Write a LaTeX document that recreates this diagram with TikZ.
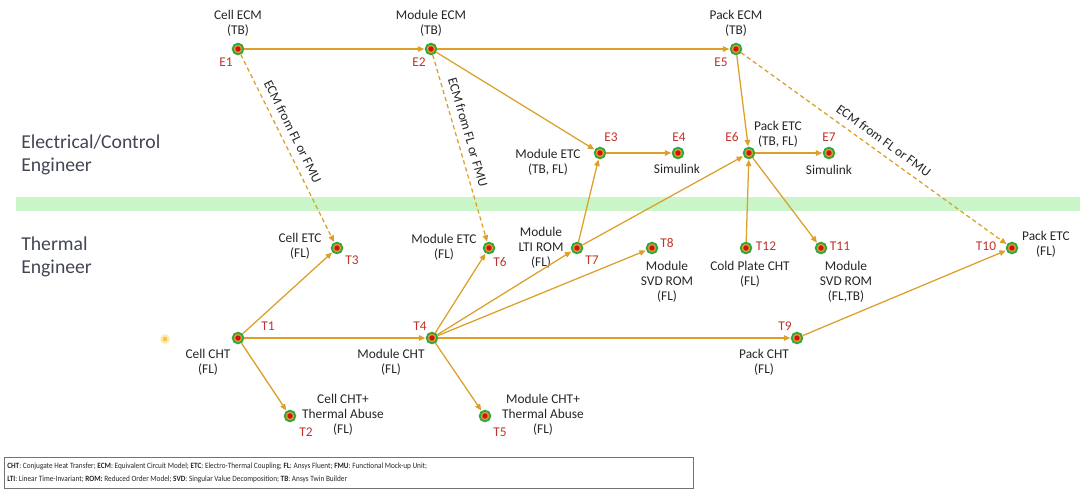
\documentclass[tikz,border=0pt]{standalone}
\usepackage{fontspec}
\setmainfont{Carlito}
\newfontfamily\keyfont[FakeStretch=0.9]{Carlito}
\usetikzlibrary{arrows.meta,calc}
\definecolor{linkOr}{RGB}{220,160,40}
\definecolor{ptGreen}{RGB}{46,168,64}
\definecolor{ptFill}{RGB}{236,150,40}
\definecolor{ptRed}{RGB}{205,20,20}
\definecolor{idRed}{RGB}{192,50,42}
\definecolor{bandGreen}{RGB}{201,245,201}
\definecolor{roleGray}{RGB}{66,70,84}
\definecolor{txtGray}{RGB}{38,38,38}
\definecolor{glow}{RGB}{250,200,60}
\tikzset{
  pt/.style={circle,draw=ptGreen,line width=1.3pt,fill=ptFill,minimum size=7.6pt,
        inner sep=0pt,path picture={\fill[ptRed] (path picture bounding box.center) circle (1.9pt);}},
  lnk/.style={draw=linkOr,line width=.9pt,-{Triangle[length=4.6pt,width=3.9pt]},shorten >=.3pt},
  dlnk/.style={lnk,dash pattern=on 3pt off 2.2pt},
  tag/.style={font=\fontsize{9.5}{10.8}\selectfont,text=idRed,inner sep=0pt},
  txt/.style={font=\fontsize{9.5}{10.8}\selectfont,text=txtGray,align=center,inner sep=0pt},
  role/.style={font=\fontsize{14}{16.4}\selectfont,text=roleGray,align=left,anchor=west,inner sep=0pt},
  via/.style={txt,sloped,above=5pt},
}
\begin{document}
\begin{tikzpicture}[x=0.025cm,y=-0.025cm]
\useasboundingbox (0,0) rectangle (1080,495);
% lane divider
\fill[bandGreen] (16,197) rectangle (1080,211);
\node[role] (ec) at (21,155) {Electrical/Control\\Engineer};
\node[role] (te) at (21,257) {Thermal\\Engineer};
% pointer dot
\fill[glow,opacity=.35] (165,339) circle (5);
\fill[glow] (165,339) circle (2.5);

% electrical points
\node[pt] (e1) at (238,49) {};
\node[pt] (e2) at (431,49) {};
\node[pt] (e5) at (736,49) {};
\node[pt] (e3) at (600,153) {};
\node[pt] (e4) at (678,153) {};
\node[pt] (e6) at (749,153) {};
\node[pt] (e7) at (829,153) {};
% thermal points
\node[pt] (t3) at (337,248) {};
\node[pt] (t6) at (489,248) {};
\node[pt] (t7) at (577,248) {};
\node[pt] (t8) at (652,248) {};
\node[pt] (t12) at (746,248) {};
\node[pt] (t11) at (821,248) {};
\node[pt] (t10) at (1012,248) {};
\node[pt] (t1) at (238,338) {};
\node[pt] (t4) at (432,338) {};
\node[pt] (t9) at (797,338) {};
\node[pt] (t2) at (290,416) {};
\node[pt] (t5) at (485,416) {};

% ids
\node[tag] (e1i) at (226,62) {E1};
\node[tag] (e2i) at (419,62) {E2};
\node[tag] (e5i) at (721,62) {E5};
\node[tag] (e3i) at (611,137) {E3};
\node[tag] (e4i) at (679,137) {E4};
\node[tag] (e6i) at (732,137) {E6};
\node[tag] (e7i) at (829,137) {E7};
\node[tag] (t3i) at (352,260) {T3};
\node[tag] (t6i) at (500,262) {T6};
\node[tag] (t7i) at (592,260) {T7};
\node[tag] (t8i) at (667,243) {T8};
\node[tag] (t12i) at (766,246) {T12};
\node[tag] (t11i) at (840,246) {T11};
\node[tag] (t10i) at (986,246) {T10};
\node[tag] (t1i) at (268,326) {T1};
\node[tag] (t4i) at (420,326) {T4};
\node[tag] (t9i) at (785,326) {T9};
\node[tag] (t2i) at (306,432) {T2};
\node[tag] (t5i) at (500,432) {T5};

% names
\node[txt] (e1n) at (238,23) {Cell ECM\\(TB)};
\node[txt] (e2n) at (431,23) {Module ECM\\(TB)};
\node[txt] (e5n) at (736,23) {Pack ECM\\(TB)};
\node[txt] (e3n) at (548,162) {Module ETC\\(TB, FL)};
\node[txt] (e4n) at (677,169) {Simulink};
\node[txt] (e6n) at (778,134) {Pack ETC\\(TB, FL)};
\node[txt] (e7n) at (829,170) {Simulink};
\node[txt] (t3n) at (300,246) {Cell ETC\\(FL)};
\node[txt] (t6n) at (444,247) {Module ETC\\(FL)};
\node[txt] (t7n) at (541,248) {Module\\LTI ROM\\(FL)};
\node[txt] (t8n) at (667,282) {Module\\SVD ROM\\(FL)};
\node[txt] (t12n) at (750,274) {Cold Plate CHT\\(FL)};
\node[txt] (t11n) at (846,282) {Module\\SVD ROM\\(FL,TB)};
\node[txt] (t10n) at (1046,244) {Pack ETC\\(FL)};
\node[txt] (t1n) at (208,362) {Cell CHT\\(FL)};
\node[txt] (t4n) at (391,362) {Module CHT\\(FL)};
\node[txt] (t9n) at (764,362) {Pack CHT\\(FL)};
\node[txt] (t2n) at (343,415) {Cell CHT+\\Thermal Abuse\\(FL)};
\node[txt] (t5n) at (543,415) {Module CHT+\\Thermal Abuse\\(FL)};

% flows
\draw[lnk] (e1)--(e2);
\draw[lnk] (e2)--(e5);
\draw[lnk] (e2)--(e3);
\draw[lnk] (e3)--(e4);
\draw[lnk] (e5)--(e6);
\draw[lnk] (e6)--(e7);
\draw[lnk] (t7)--(e3);
\draw[lnk] (t7)--(e6);
\draw[lnk] (t12)--(e6);
\draw[lnk] (e6)--(t11);
\draw[lnk] (t1)--(t3);
\draw[lnk] (t1)--(t4);
\draw[lnk] (t1)--(t2);
\draw[lnk] (t4)--(t6);
\draw[lnk] (t4)--(t7);
\draw[lnk] (t4)--(t8);
\draw[lnk] (t4)--(t9);
\draw[lnk] (t4)--(t5);
\draw[lnk] (t9)--(t10);
\draw[dlnk] (e1)-- node[via,pos=.44] (v1) {ECM from FL or FMU} (t3);
\draw[dlnk] (e2)-- node[via,pos=.43] (v2) {ECM from FL or FMU} (t6);
\draw[dlnk] (e5)-- node[via,pos=.51] (v3) {ECM from FL or FMU} (t10);

% legend
\draw[black!55,line width=.5pt] (4,457) rectangle (693,488);
\node[font=\keyfont\fontsize{5.75}{9.2}\selectfont,text=txtGray,align=left,anchor=north west,inner sep=0pt] (key) at (7,462.5)
  {\textbf{CHT}: Conjugate Heat Transfer; \textbf{ECM}: Equivalent Circuit Model; \textbf{ETC}: Electro-Thermal Coupling; \textbf{FL}: Ansys Fluent; \textbf{FMU}: Functional Mock-up Unit;\\
   \textbf{LTI}: Linear Time-Invariant; \textbf{ROM:} Reduced Order Model; \textbf{SVD}: Singular Value Decomposition; \textbf{TB}: Ansys Twin Builder};
\end{tikzpicture}
\end{document}
